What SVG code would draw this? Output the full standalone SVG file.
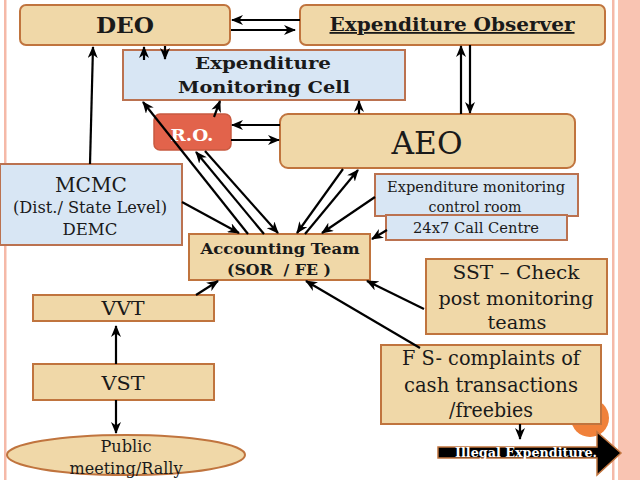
<svg xmlns="http://www.w3.org/2000/svg" width="640" height="480" viewBox="0 0 640 480">
<defs>
<marker id="ah" viewBox="0 0 12 10" refX="11" refY="5" markerWidth="12" markerHeight="10" markerUnits="userSpaceOnUse" orient="auto">
<path d="M0,0 L12,5 L0,10 L3.5,5 z" fill="#000"/>
</marker>
<style>
.tan{fill:#f0d8a8;stroke:#c0743e;stroke-width:2}
.blue{fill:#d8e6f4;stroke:#bb7250;stroke-width:2}
.t{font-family:"DejaVu Serif","Liberation Serif",serif;fill:#1a1a1a;text-anchor:middle}
.b{font-weight:bold}
.c line{stroke:#000;stroke-width:2.2;marker-end:url(#ah)}
</style>
</defs>
<rect width="640" height="480" fill="#fff"/>
<rect x="4" y="0" width="2.5" height="480" fill="#f5b9a8"/>
<rect x="612" y="0" width="2.5" height="480" fill="#f5b9a8"/>
<rect x="618" y="0" width="22" height="480" fill="#f9c4b2"/>
<circle cx="590" cy="418" r="19" fill="#f0813a"/>

<g id="deo"><rect class="tan" x="20" y="5" width="210" height="40" rx="6"/><text class="t b" x="125" y="33" font-size="22" textLength="58" lengthAdjust="spacingAndGlyphs">DEO</text></g>
<g id="observer"><rect class="tan" x="300" y="5" width="305" height="40" rx="6"/><text class="t b" x="452" y="31" font-size="18" textLength="245" lengthAdjust="spacingAndGlyphs" text-decoration="underline">Expenditure Observer</text></g>
<g id="emc"><rect class="blue" x="123" y="50" width="282" height="50"/><text class="t b" x="263" y="69" font-size="17" textLength="136" lengthAdjust="spacingAndGlyphs">Expenditure</text><text class="t b" x="264" y="93" font-size="17" textLength="172" lengthAdjust="spacingAndGlyphs">Monitoring Cell</text></g>
<g id="ro"><rect x="154" y="114" width="77" height="36" rx="6" fill="#e2634b" stroke="#c85a40" stroke-width="1.5"/><text class="t b" x="192" y="141" font-size="17" style="fill:#fff" textLength="43" lengthAdjust="spacingAndGlyphs">R.O.</text></g>
<g id="aeo"><rect class="tan" x="280" y="114" width="295" height="54" rx="8"/><text class="t" x="427" y="154" font-size="31" textLength="71" lengthAdjust="spacingAndGlyphs">AEO</text></g>
<g id="mcmc"><rect class="blue" x="0" y="164" width="182" height="81"/><text class="t" x="91" y="192" font-size="21" textLength="72" lengthAdjust="spacingAndGlyphs">MCMC</text><text class="t" x="90" y="213" font-size="16" textLength="154" lengthAdjust="spacingAndGlyphs">(Dist./ State Level)</text><text class="t" x="90" y="235" font-size="17" textLength="55" lengthAdjust="spacingAndGlyphs">DEMC</text></g>
<g id="control"><rect class="blue" x="375" y="174" width="203" height="42"/><text class="t" x="476" y="192" font-size="14" textLength="178" lengthAdjust="spacingAndGlyphs">Expenditure monitoring</text><text class="t" x="475" y="212" font-size="14" textLength="93" lengthAdjust="spacingAndGlyphs">control room</text></g>
<g id="callcentre"><rect class="blue" x="386" y="215" width="181" height="25"/><text class="t" x="476" y="233" font-size="14" textLength="126" lengthAdjust="spacingAndGlyphs">24x7 Call Centre</text></g>
<g id="accounting"><rect class="tan" x="189" y="234" width="181" height="46"/><text class="t b" x="280" y="254" font-size="15" textLength="159" lengthAdjust="spacingAndGlyphs">Accounting Team</text><text class="t b" x="279" y="275" font-size="15" textLength="104" lengthAdjust="spacingAndGlyphs">(SOR &#160;/ FE )</text></g>
<g id="sst"><rect class="tan" x="426" y="259" width="181" height="75"/><text class="t" x="516" y="279" font-size="19" textLength="127" lengthAdjust="spacingAndGlyphs">SST – Check</text><text class="t" x="516" y="305" font-size="19" textLength="155" lengthAdjust="spacingAndGlyphs">post monitoring</text><text class="t" x="517" y="329" font-size="19" textLength="59" lengthAdjust="spacingAndGlyphs">teams</text></g>
<g id="vvt"><rect class="tan" x="33" y="295" width="181" height="26"/><text class="t" x="123" y="315" font-size="19" textLength="43" lengthAdjust="spacingAndGlyphs">VVT</text></g>
<g id="vst"><rect class="tan" x="33" y="364" width="181" height="36"/><text class="t" x="123" y="390" font-size="19" textLength="43" lengthAdjust="spacingAndGlyphs">VST</text></g>
<g id="public"><ellipse class="tan" cx="126" cy="455" rx="119" ry="20"/><text class="t" x="126" y="452" font-size="16" textLength="51" lengthAdjust="spacingAndGlyphs">Public</text><text class="t" x="126" y="474" font-size="16" textLength="113" lengthAdjust="spacingAndGlyphs">meeting/Rally</text></g>
<g id="fs"><rect class="tan" x="381" y="345" width="220" height="79"/><text class="t" x="491" y="365" font-size="20" textLength="178" lengthAdjust="spacingAndGlyphs">F S- complaints of</text><text class="t" x="491" y="392" font-size="20" textLength="174" lengthAdjust="spacingAndGlyphs">cash transactions</text><text class="t" x="491" y="417" font-size="20" textLength="84" lengthAdjust="spacingAndGlyphs">/freebies</text></g>
<g id="illegal"><path d="M438,447 L597,447 L597,432 L621,453 L597,475 L597,458 L438,458 z" fill="#000" stroke="#c0743e" stroke-width="1.5"/><text class="t b" x="526" y="457" font-size="12" style="fill:#fff" textLength="142" lengthAdjust="spacingAndGlyphs">Illegal Expenditure.</text></g>

<g id="connectors" class="c">
<line x1="300" y1="20" x2="232" y2="20"/>
<line x1="231" y1="30" x2="295" y2="30"/>
<line x1="144" y1="60" x2="144" y2="47"/>
<line x1="165" y1="46" x2="165" y2="59"/>
<line x1="461" y1="114" x2="461" y2="46"/>
<line x1="470" y1="45" x2="470" y2="113"/>
<line x1="214" y1="117" x2="220" y2="101"/>
<line x1="359" y1="114" x2="359" y2="101"/>
<line x1="280" y1="125" x2="232" y2="125"/>
<line x1="231" y1="140" x2="279" y2="140"/>
<line x1="90" y1="164" x2="93" y2="47"/>
<line x1="248" y1="234" x2="143" y2="102"/>
<line x1="264" y1="234" x2="196" y2="152"/>
<line x1="205" y1="151" x2="278" y2="233"/>
<line x1="182" y1="202" x2="239" y2="233"/>
<line x1="343" y1="169" x2="297" y2="233"/>
<line x1="305" y1="234" x2="358" y2="170"/>
<line x1="375" y1="197" x2="322" y2="233"/>
<line x1="387" y1="230" x2="372" y2="239"/>
<line x1="196" y1="295" x2="218" y2="281"/>
<line x1="424" y1="309" x2="367" y2="281"/>
<line x1="420" y1="348" x2="306" y2="281"/>
<line x1="116" y1="364" x2="116" y2="326"/>
<line x1="116" y1="400" x2="116" y2="433"/>
<line x1="520" y1="424" x2="520" y2="439"/>
</g>
</svg>
